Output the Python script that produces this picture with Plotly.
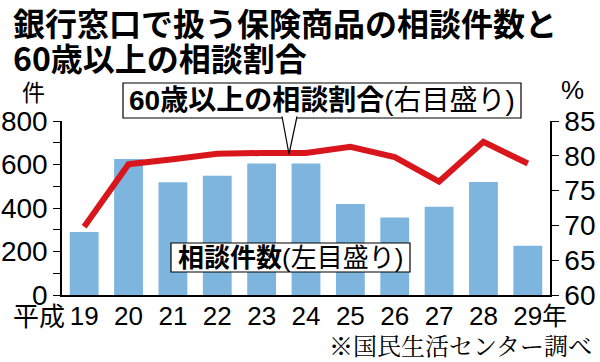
import plotly.graph_objects as go

years = ["19", "20", "21", "22", "23", "24", "25", "26", "27", "28", "29"]
counts = [290, 625, 518, 548, 605, 605, 418, 356, 406, 520, 226]
ratio = [69.8, 78.8, 79.5, 80.3, 80.4, 80.4, 81.3, 79.8, 76.3, 82.0, 78.9]

W, H = 600, 362
L, R, T, B = 62, 550, 121, 295
FONT = "Liberation Sans, Arial, Noto Sans CJK JP, sans-serif"
CJK = "Noto Sans CJK JP, sans-serif"

def px(x):
    return (x - L) / (R - L)

def py(y):
    return (B - y) / (B - T)

fig = go.Figure()
fig.add_trace(go.Bar(x=years, y=counts, marker=dict(color="#7db5df", line=dict(width=0)),
                     width=0.65, yaxis="y"))
fig.add_trace(go.Scatter(x=years, y=ratio, mode="lines", line=dict(color="#d9161c", width=6),
                         yaxis="y2"))

fig.update_layout(
    width=W, height=H,
    margin=dict(l=L, r=W - R, t=T, b=H - B, pad=0),
    paper_bgcolor="white", plot_bgcolor="white",
    showlegend=False,
    font=dict(family=FONT, color="black"),
    bargap=0.35,
    xaxis=dict(type="category", showline=True, linecolor="black", linewidth=1.5,
               ticks="", tickfont=dict(size=26, family=FONT), showgrid=False,
               range=[-0.5, 10.5], automargin=False, ticklabelstandoff=-3),
    yaxis=dict(range=[0, 800], dtick=200, showline=True, linecolor="black", linewidth=1.5,
               ticks="outside", ticklen=7, tickcolor="black", tickwidth=1.2,
               minor=dict(dtick=100, ticks="outside", ticklen=7, tickcolor="black", tickwidth=1.2),
               tickfont=dict(size=28, family=FONT), showgrid=False, zeroline=False,
               automargin=False),
    yaxis2=dict(range=[60, 85], dtick=5, overlaying="y", side="right", showline=True,
                linecolor="black", linewidth=1.5, ticks="outside", ticklen=7,
                tickcolor="black", tickwidth=1.2, tickfont=dict(size=28, family=FONT),
                showgrid=False, zeroline=False, automargin=False),
)

shapes = []
shapes.append(dict(type="rect", xref="paper", yref="paper", x0=px(123), x1=px(521),
                   y0=py(118), y1=py(83), line=dict(color="black", width=1.2),
                   fillcolor="white", layer="above"))
shapes.append(dict(type="path", xref="paper", yref="paper",
                   path=f"M {px(282)} {py(116.5)} L {px(289)} {py(154)} L {px(297)} {py(116.5)}",
                   line=dict(color="black", width=1.2), fillcolor="white", layer="above"))
shapes.append(dict(type="rect", xref="paper", yref="paper", x0=px(171), x1=px(410),
                   y0=py(272), y1=py(243), line=dict(color="black", width=1.2),
                   fillcolor="white", layer="above"))
fig.update_layout(shapes=shapes)

ann = []
ann.append(dict(text="<b>銀行窓口で扱う保険商品の相談件数と</b>", xref="paper", yref="paper",
                x=px(11), y=py(22), xanchor="left", yanchor="middle", showarrow=False,
                font=dict(size=32, family=CJK)))
ann.append(dict(text="<b>60歳以上の相談割合</b>", xref="paper", yref="paper",
                x=px(11), y=py(57), xanchor="left", yanchor="middle", showarrow=False,
                font=dict(size=32, family=CJK)))
ann.append(dict(text="件", xref="paper", yref="paper", x=px(33), y=py(91),
                xanchor="center", yanchor="middle", showarrow=False,
                font=dict(size=23, family=CJK)))
ann.append(dict(text="%", xref="paper", yref="paper", x=px(572), y=py(90),
                xanchor="center", yanchor="middle", showarrow=False,
                font=dict(size=26, family=FONT)))
ann.append(dict(text="<b>60歳以上の相談割合</b>(右目盛り)", xref="paper", yref="paper",
                x=px(322), y=py(101), xanchor="center", yanchor="middle", showarrow=False,
                font=dict(size=28, family=FONT)))
ann.append(dict(text="<b>相談件数</b>(左目盛り)", xref="paper", yref="paper",
                x=px(290.5), y=py(258), xanchor="center", yanchor="middle", showarrow=False,
                font=dict(size=26, family=FONT)))
ann.append(dict(text="平成", xref="paper", yref="paper", x=px(67), y=py(314),
                xanchor="right", yanchor="middle", showarrow=False,
                font=dict(size=26, family=CJK)))
ann.append(dict(text="年", xref="paper", yref="paper", x=px(540), y=py(314),
                xanchor="left", yanchor="middle", showarrow=False,
                font=dict(size=25, family=CJK)))
ann.append(dict(text="※国民生活センター調べ", xref="paper", yref="paper", x=px(594), y=py(344),
                xanchor="right", yanchor="middle", showarrow=False,
                font=dict(size=24, family="Noto Serif CJK JP, " + CJK)))
fig.update_layout(annotations=ann)

fig.write_html("out.html", config={"displayModeBar": False},
               post_script="document.body.style.margin='0';document.body.style.overflow='hidden';")
